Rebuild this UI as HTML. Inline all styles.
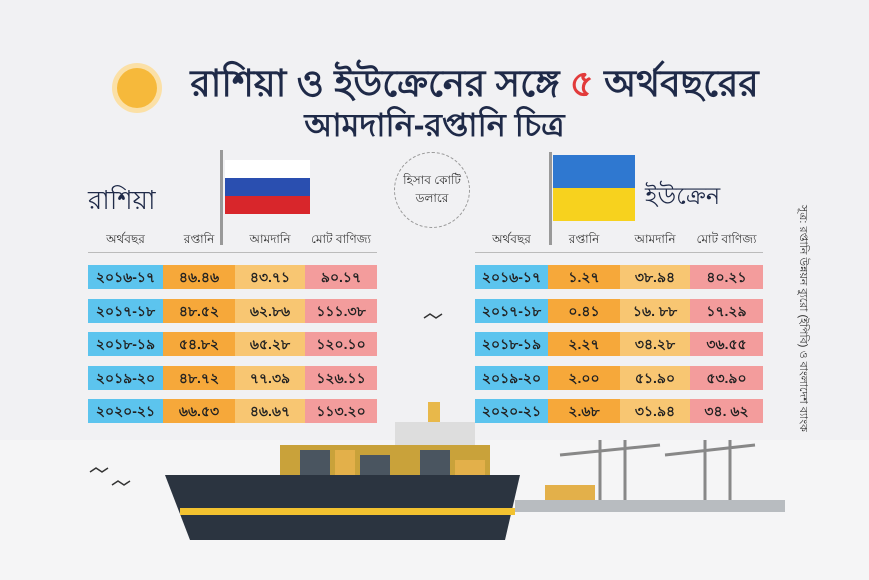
<!DOCTYPE html>
<html><head><meta charset="utf-8"><style>
body{margin:0;width:869px;height:580px;overflow:hidden;background:#f1f1f3;font-family:"Liberation Sans","Noto Sans CJK SC",sans-serif;position:relative}
.a{position:absolute}
.t{position:absolute;left:0;width:869px;text-align:center;color:#1f2a48;font-weight:bold}
.c{position:absolute;height:24px;line-height:24px;text-align:center;font-size:14px;color:#222;font-weight:bold}
.h{position:absolute;font-size:12px;color:#333;text-align:center}
</style></head><body>
<div class="a" style="left:0;top:440px;width:869px;height:140px;background:#f5f5f6"></div>
<div class="a" style="left:117px;top:68px;width:40px;height:40px;border-radius:50%;background:#f6b93b;box-shadow:0 0 0 5px #fbe0a6"></div>
<div class="t" style="top:54px;font-size:37px;left:40px">রাশিয়া ও ইউক্রেনের সঙ্গে <span style="color:#e23b3b">৫</span> অর্থবছরের</div>
<div class="t" style="top:100px;font-size:32px">আমদানি-রপ্তানি চিত্র</div>
<div class="a" style="left:88px;top:180px;font-size:26px;color:#1f2a48">রাশিয়া</div>
<div class="a" style="left:220px;top:150px;width:3px;height:95px;background:#999"></div>
<div class="a" style="left:225px;top:160px;width:85px;height:18px;background:#fff"></div>
<div class="a" style="left:225px;top:178px;width:85px;height:18px;background:#2a4fb0"></div>
<div class="a" style="left:225px;top:196px;width:85px;height:18px;background:#d8262b"></div>
<div class="a" style="left:394px;top:152px;width:76px;height:76px;border-radius:50%;border:1px dashed #999;text-align:center;font-size:12px;line-height:18px;box-sizing:border-box;padding-top:18px;color:#333">হিসাব কোটি<br>ডলারে</div>
<div class="a" style="left:549px;top:152px;width:3px;height:93px;background:#999"></div>
<div class="a" style="left:553px;top:155px;width:82px;height:33px;background:#2f78d0"></div>
<div class="a" style="left:553px;top:188px;width:82px;height:33px;background:#f7d21e"></div>
<div class="a" style="left:645px;top:178px;font-size:24px;color:#1f2a48">ইউক্রেন</div>
<div class="h" style="left:88px;top:231px;width:75px">অর্থবছর</div>
<div class="h" style="left:163px;top:231px;width:72px">রপ্তানি</div>
<div class="h" style="left:235px;top:231px;width:70px">আমদানি</div>
<div class="h" style="left:305px;top:231px;width:72px">মোট বাণিজ্য</div>
<div class="a" style="left:88px;top:252px;width:289px;height:1px;background:#bbb"></div>
<div class="h" style="left:475px;top:231px;width:73px">অর্থবছর</div>
<div class="h" style="left:548px;top:231px;width:72px">রপ্তানি</div>
<div class="h" style="left:620px;top:231px;width:70px">আমদানি</div>
<div class="h" style="left:690px;top:231px;width:73px">মোট বাণিজ্য</div>
<div class="a" style="left:475px;top:252px;width:288px;height:1px;background:#bbb"></div>
<div id="rows"></div>
<script>
var L=[["২০১৬-১৭","৪৬.৪৬","৪৩.৭১","৯০.১৭"],["২০১৭-১৮","৪৮.৫২","৬২.৮৬","১১১.৩৮"],["২০১৮-১৯","৫৪.৮২","৬৫.২৮","১২০.১০"],["২০১৯-২০","৪৮.৭২","৭৭.৩৯","১২৬.১১"],["২০২০-২১","৬৬.৫৩","৪৬.৬৭","১১৩.২০"]];
var R=[["২০১৬-১৭","১.২৭","৩৮.৯৪","৪০.২১"],["২০১৭-১৮","০.৪১","১৬. ৮৮","১৭.২৯"],["২০১৮-১৯","২.২৭","৩৪.২৮","৩৬.৫৫"],["২০১৯-২০","২.০০","৫১.৯০","৫৩.৯০"],["২০২০-২১","২.৬৮","৩১.৯৪","৩৪. ৬২"]];
var col=["#5cc4ee","#f6a83a","#f8c672","#f39c9c"],h="";
function tb(d,xs,ws){for(var i=0;i<5;i++){var y=265+i*33.6;for(var j=0;j<4;j++)h+='<div class="c" style="left:'+xs[j]+'px;top:'+y+'px;width:'+ws[j]+'px;background:'+col[j]+'">'+d[i][j]+'</div>';}}
tb(L,[88,163,235,305],[75,72,70,72]);tb(R,[475,548,620,690],[73,72,70,73]);
document.getElementById("rows").innerHTML=h;
</script>
<div class="a" style="left:812px;top:205px;transform:rotate(90deg);transform-origin:left top;font-size:11px;color:#333;white-space:nowrap">সূত্র: রপ্তানি উন্নয়ন ব্যুরো (ইপিবি) ও বাংলাদেশ ব্যাংক</div>
<svg class="a" style="left:0;top:0" width="869" height="580">
<rect x="280" y="445" width="210" height="30" fill="#c9a23a"/>
<g fill="#4a5560"><rect x="300" y="450" width="30" height="25"/><rect x="360" y="455" width="30" height="20"/><rect x="420" y="450" width="30" height="25"/></g>
<g fill="#e3b04a"><rect x="335" y="450" width="20" height="25"/><rect x="455" y="460" width="30" height="15"/></g>
<rect x="395" y="422" width="80" height="23" fill="#ddd"/><rect x="428" y="402" width="12" height="20" fill="#e8b84a"/>
<path d="M165 475 L520 475 L505 540 L190 540 Z" fill="#2b3440"/>
<rect x="180" y="508" width="335" height="7" fill="#f2c230"/>
<rect x="515" y="500" width="270" height="12" fill="#b8bcc0"/>
<rect x="545" y="485" width="50" height="15" fill="#e3b04a"/>
<g stroke="#888" stroke-width="3" fill="none"><path d="M600 440 L600 500 M625 440 L625 500 M560 455 L660 445"/><path d="M705 440 L705 500 M730 440 L730 500 M665 455 L755 445"/></g>
<g stroke="#333" stroke-width="1.5" fill="none"><path d="M424 318 l6 -4 l6 4 l6 -4"/><path d="M90 472 l6 -4 l6 4 l6 -4"/><path d="M112 485 l6 -4 l6 4 l6 -4"/></g>
</svg>
</body></html>
